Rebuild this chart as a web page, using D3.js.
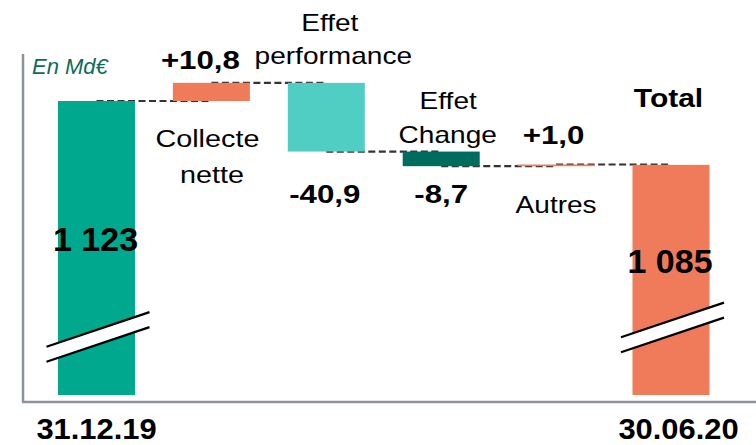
<!DOCTYPE html>
<html><head><meta charset="utf-8">
<script src="https://cdn.jsdelivr.net/npm/d3@7"></script>
<style>
html,body{margin:0;padding:0;background:#fff;}
svg{display:block;font-family:"Liberation Sans",Arial,sans-serif;}
</style></head>
<body>
<script>
// ---- data ----
const categories = ["31.12.19", "Collecte nette", "Effet performance", "Effet Change", "Autres", "30.06.20"];
const kinds = ["total", "delta", "delta", "delta", "delta", "total"];
const values = [1123, 10.8, -40.9, -8.7, 1.0, 1085];
const valueLabels = ["1 123", "+10,8", "-40,9", "-8,7", "+1,0", "1 085"];
const dateLabels = ["31.12.19", "", "", "", "", "30.06.20"];
const nameLines = [[], ["Collecte", "nette"], ["Effet", "performance"], ["Effet", "Change"], ["Autres"], ["Total"]];
const unitLabel = "En Md€";
const colors = ["#00A88E", "#F07B5A", "#50CEC4", "#006B5F", "#F07B5A", "#F07B5A"];

const W = 756, H = 445;
const svg = d3.select("body").append("svg").attr("width", W).attr("height", H);

const x = d3.scalePoint().domain(categories).range([96.5, 671]);
const bw = 77;
const y = d3.scaleLinear().domain([948, 1123]).range([395, 101]);

// compute waterfall
let run = 0;
const bars = categories.map((c, i) => {
  let y0, y1;
  if (kinds[i] === "total") { y0 = y.domain()[0]; y1 = values[i]; run = values[i]; }
  else { y0 = run; y1 = run + values[i]; run = y1; }
  return {c, i, lo: Math.min(y0, y1), hi: Math.max(y0, y1), end: run};
});

// axes lines
svg.append("line").attr("x1", 23).attr("x2", 23).attr("y1", 54).attr("y2", 402)
  .attr("stroke", "#8C9399").attr("stroke-width", 2.5);
svg.append("line").attr("x1", 22).attr("x2", W).attr("y1", 402).attr("y2", 402)
  .attr("stroke", "#8C9399").attr("stroke-width", 2.5);

// connectors
const conn = svg.append("g");
for (let i = 0; i < bars.length - 1; i++) {
  const lvl = bars[i].end;
  conn.append("line")
    .attr("x1", x(categories[i])).attr("x2", x(categories[i + 1]))
    .attr("y1", y(lvl)).attr("y2", y(lvl))
    .attr("stroke", "#333").attr("stroke-width", 2.2).attr("stroke-dasharray", "7,3.5");
}

// bars
svg.append("g").selectAll("rect").data(bars).join("rect")
  .attr("x", d => x(d.c) - bw / 2)
  .attr("width", bw)
  .attr("y", d => y(d.hi))
  .attr("height", d => Math.max(1.5, y(d.lo) - y(d.hi)))
  .attr("fill", d => colors[d.i]);

// axis break marks on total bars
function breakMark(cx, cy) {
  const g = svg.append("g");
  const dx1 = -50, dx2 = 53, slope = -34 / 101, gap = 15;
  const p = (dx) => [cx + dx, cy + dx * slope];
  const a = p(dx1), b = p(dx2);
  g.append("path")
    .attr("d", `M${a[0]},${a[1] - gap / 2}L${b[0]},${b[1] - gap / 2}L${b[0]},${b[1] + gap / 2}L${a[0]},${a[1] + gap / 2}Z`)
    .attr("fill", "#fff");
  [-gap / 2, gap / 2].forEach(o => {
    g.append("line").attr("x1", a[0]).attr("y1", a[1] + o).attr("x2", b[0]).attr("y2", b[1] + o)
      .attr("stroke", "#000").attr("stroke-width", 2.2);
  });
}
breakMark(x(categories[0]), 337.5);
breakMark(x(categories[5]), 328);

// text helper
function txt(px, py, s, o) {
  o = o || {};
  svg.append("text")
    .attr("transform", `translate(${px},${py}) scale(${o.sx || 1},1)`)
    .attr("text-anchor", o.anchor || "middle")
    .attr("font-size", o.size || 24)
    .attr("font-weight", o.bold ? "bold" : "normal")
    .attr("font-style", o.italic ? "italic" : "normal")
    .attr("fill", o.fill || "#000")
    .text(s);
}

// unit label
txt(32, 73.5, unitLabel, {anchor: "start", size: 22, italic: true, fill: "#0E6B5B", sx: 1.0});

const cx = i => x(categories[i]);
// value labels
txt(cx(0) - 1, 250.5, valueLabels[0], {size: 34, bold: true, sx: 1.0});
txt(cx(1) - 11, 68.5, valueLabels[1], {size: 25, bold: true, sx: 1.25});
txt(cx(2) - 1.5, 203, valueLabels[2], {size: 25, bold: true, sx: 1.25});
txt(cx(3), 203, valueLabels[3], {size: 25, bold: true, sx: 1.25});
txt(cx(4) - 2.5, 144, valueLabels[4], {size: 25, bold: true, sx: 1.25});
txt(cx(5) - 1, 272.5, valueLabels[5], {size: 34, bold: true, sx: 1.0});

// names
txt(cx(1) - 4, 147, nameLines[1][0], {size: 24, sx: 1.2});
txt(cx(1) + 0.5, 183, nameLines[1][1], {size: 24, sx: 1.2});
txt(cx(2) + 3.5, 30.5, nameLines[2][0], {size: 23, sx: 1.22});
txt(cx(2) + 7, 64, nameLines[2][1], {size: 23, sx: 1.22});
txt(cx(3) + 7, 108.5, nameLines[3][0], {size: 23, sx: 1.22});
txt(cx(3) + 6.5, 143, nameLines[3][1], {size: 23, sx: 1.22});
txt(cx(4), 213, nameLines[4][0], {size: 23, sx: 1.22});
txt(cx(5) - 2.5, 107, nameLines[5][0], {size: 25, bold: true, sx: 1.2});

// dates
txt(cx(0), 439, dateLabels[0], {size: 30, bold: true, sx: 1.03});
txt(cx(5) + 7.5, 439, dateLabels[5], {size: 30, bold: true, sx: 1.03});
</script>
</body></html>
